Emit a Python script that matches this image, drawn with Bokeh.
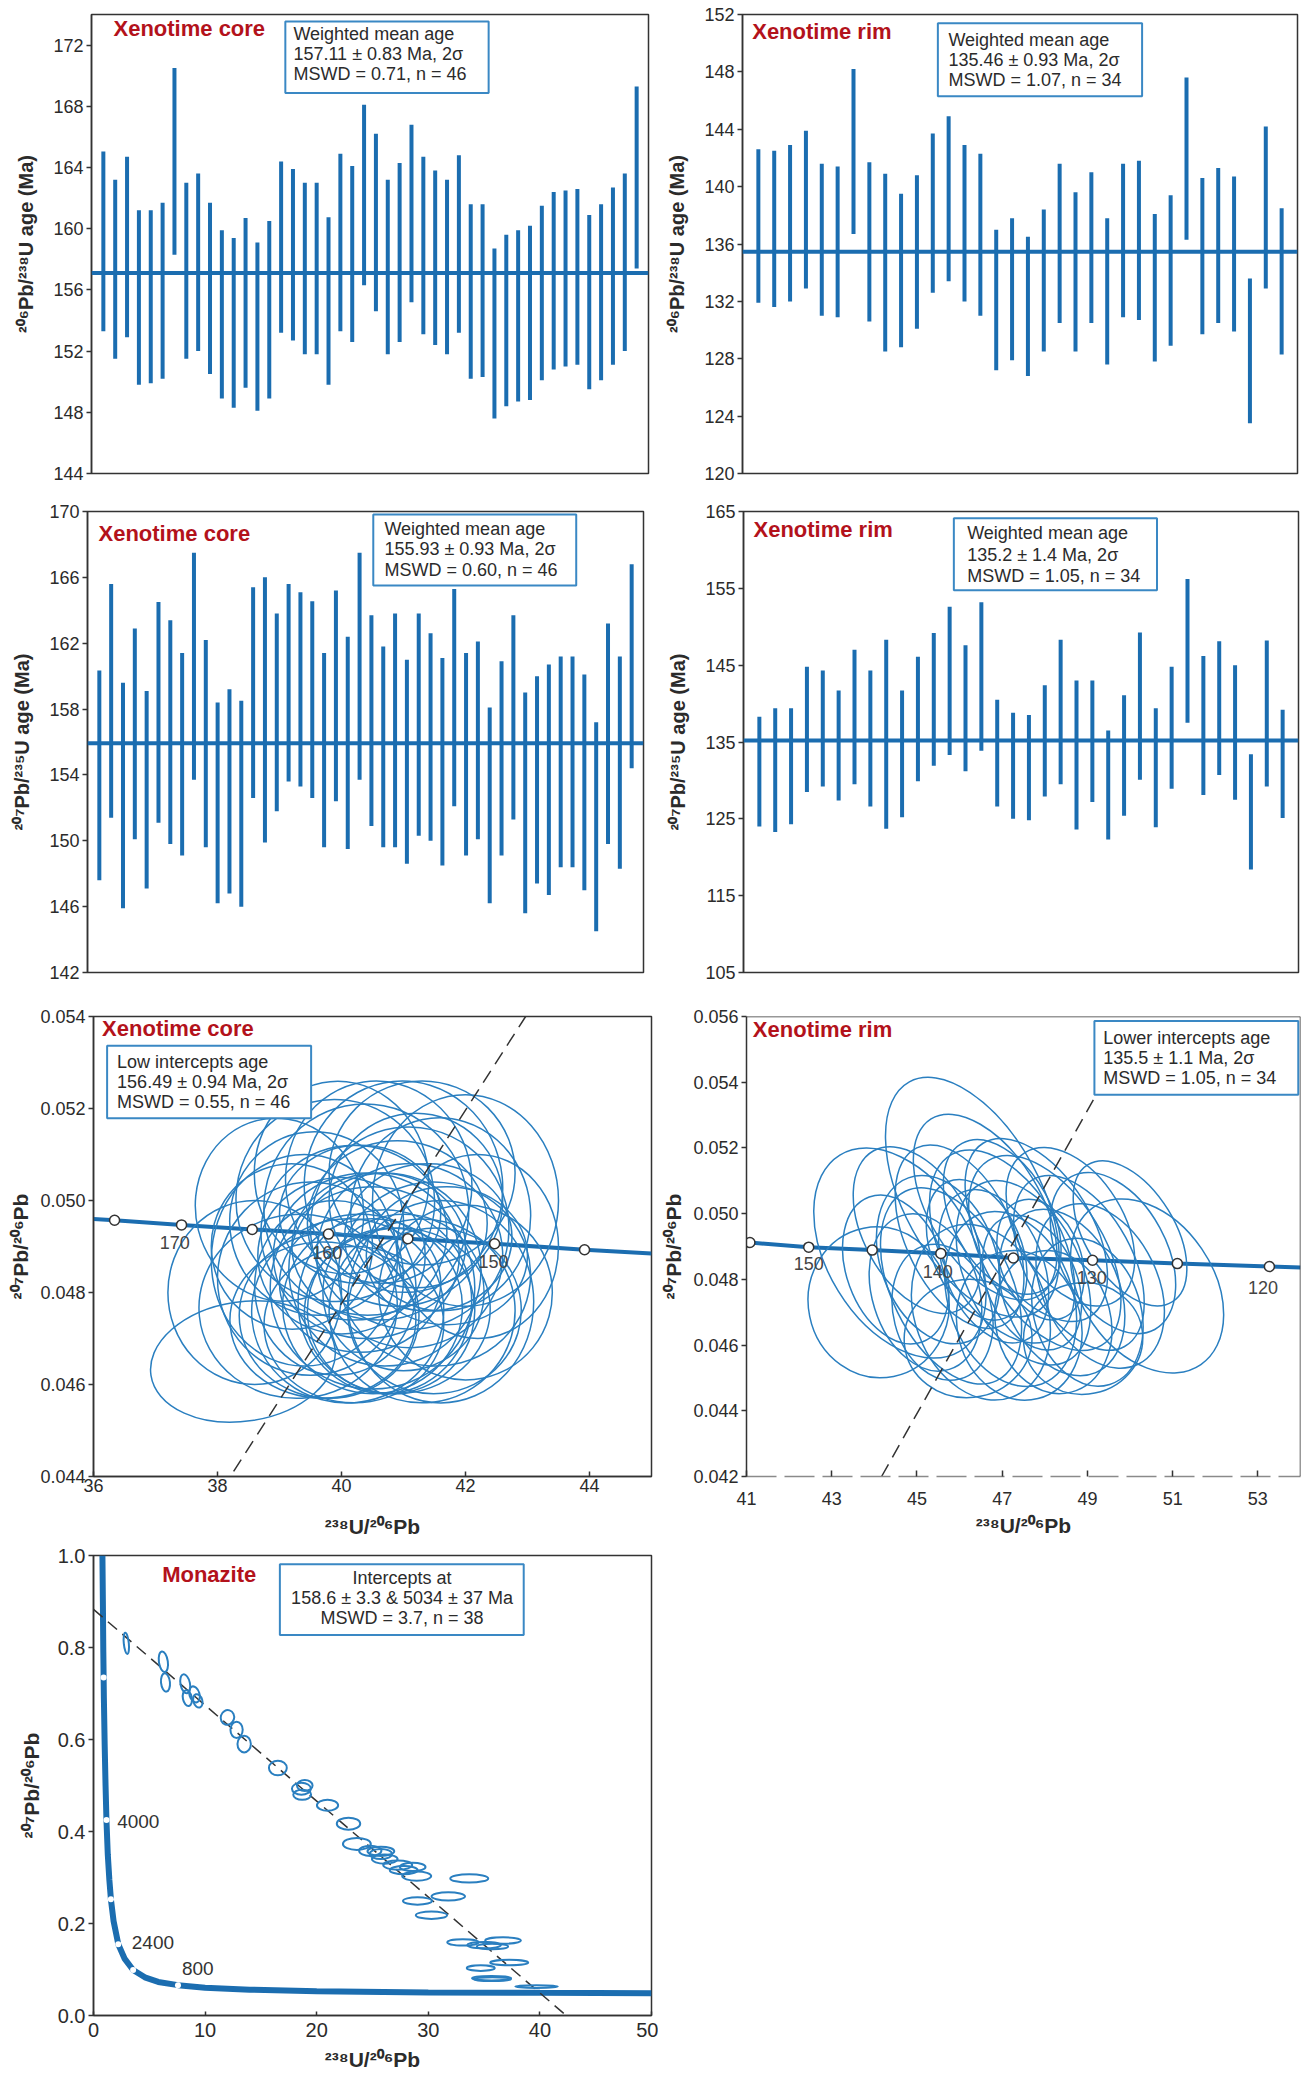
from bokeh.plotting import figure
from bokeh.layouts import column, row
from bokeh.models import Range1d, FixedTicker, PrintfTickFormatter, Span, BoxAnnotation, Label
from bokeh.core.properties import value
from bokeh.embed import file_html
from bokeh.resources import INLINE

# ---------------------------------------------------------------- data
# 206Pb/238U ages, xenotime core (2 sigma bars)
core_238_hi = [165.05, 163.2, 164.7, 161.2, 161.2, 161.7, 170.5, 163.0, 163.6, 161.7,
               159.9, 159.4, 160.7, 159.1, 160.5, 164.4, 163.9, 163.0, 163.0, 160.75,
               164.9, 164.1, 168.1, 166.2, 163.2, 164.3, 166.8, 164.7, 163.8, 163.2,
               164.8, 161.6, 161.6, 158.7, 159.6, 159.9, 160.2, 161.5, 162.4, 162.5,
               162.6, 160.9, 161.6, 162.7, 163.6, 169.3]
core_238_lo = [153.3, 151.5, 152.9, 149.8, 149.9, 150.2, 158.3, 151.5, 152.0, 150.5,
               148.9, 148.3, 149.6, 148.1, 148.9, 153.2, 152.7, 151.8, 151.8, 149.8,
               153.3, 152.6, 156.3, 154.6, 151.8, 152.6, 155.2, 153.1, 152.4, 151.8,
               153.2, 150.2, 150.3, 147.6, 148.4, 148.7, 148.8, 150.1, 150.8, 151.0,
               151.1, 149.5, 150.1, 151.1, 152.0, 157.4]
core_238_mean = 157.11
core_238_ticks = [144, 148, 152, 156, 160, 164, 168, 172]

# 206Pb/238U ages, xenotime rim
rim_238_hi = [142.6, 142.5, 142.9, 143.9, 141.6, 141.4, 148.2, 141.7, 140.9, 139.5,
              140.8, 143.7, 144.9, 142.9, 142.3, 137.0, 137.8, 136.5, 138.4, 141.6,
              139.6, 141.0, 137.8, 141.6, 141.8, 138.1, 139.4, 147.6, 140.6, 141.3,
              140.7, 133.6, 144.2, 138.5]
rim_238_lo = [131.9, 131.6, 132.0, 132.9, 131.0, 130.9, 136.7, 130.6, 128.5, 128.8,
              130.1, 132.6, 133.4, 132.0, 131.0, 127.2, 127.9, 126.8, 128.5, 130.5,
              128.5, 130.5, 127.6, 130.9, 130.7, 127.8, 128.9, 136.3, 129.7, 130.5,
              129.9, 123.5, 132.9, 128.3]
rim_238_mean = 135.46
rim_238_ticks = [120, 124, 128, 132, 136, 140, 144, 148, 152]

# 207Pb/235U ages, xenotime core
core_235_hi = [160.35, 165.6, 159.6, 162.9, 159.1, 164.5, 163.4, 161.4, 167.5, 162.2,
               158.4, 159.2, 158.5, 165.4, 166.0, 163.8, 165.6, 165.1, 164.55, 161.4,
               165.2, 162.4, 167.5, 163.7, 161.8, 163.8, 161.0, 163.8, 162.6, 161.1,
               165.3, 161.4, 162.1, 158.1, 160.9, 163.7, 159.0, 160.0, 160.7, 161.2,
               161.2, 160.1, 157.2, 163.2, 161.2, 166.8]
core_235_lo = [147.6, 151.4, 145.9, 150.1, 147.1, 151.1, 149.8, 149.1, 153.7, 149.6,
               146.2, 146.8, 146.0, 152.6, 149.9, 151.8, 153.6, 153.3, 152.6, 149.6,
               152.4, 149.5, 153.7, 150.9, 149.6, 149.6, 148.6, 150.3, 150.0, 148.5,
               152.1, 149.1, 150.1, 146.2, 149.1, 151.3, 145.6, 147.4, 146.7, 148.4,
               148.4, 147.0, 144.5, 149.8, 148.3, 154.4]
core_235_mean = 155.93
core_235_ticks = [142, 146, 150, 154, 158, 162, 166, 170]

# 207Pb/235U ages, xenotime rim
rim_235_hi = [138.3, 139.4, 139.4, 144.8, 144.3, 141.7, 147.0, 144.3, 148.3, 141.7,
              146.1, 149.2, 152.6, 147.6, 153.2, 140.5, 138.8, 138.5, 142.4, 148.3,
              143.0, 143.0, 136.5, 141.1, 149.25, 139.4, 144.8, 156.2, 146.2, 148.1,
              145.0, 133.4, 148.2, 139.2]
rim_235_lo = [124.0, 123.3, 124.3, 128.5, 129.2, 127.4, 129.5, 126.6, 123.7, 125.2,
              129.9, 131.9, 133.3, 131.2, 133.85, 126.6, 125.0, 124.8, 127.9, 129.5,
              123.6, 127.2, 122.3, 125.4, 130.1, 123.9, 128.9, 137.5, 128.1, 130.7,
              127.5, 118.4, 129.2, 125.1]
rim_235_mean = 135.2
rim_235_ticks = [105, 115, 125, 135, 145, 155, 165]

# Tera-Wasserburg, xenotime core
core_curve_x = [36.0, 36.34, 37.42, 38.56, 39.79, 41.07, 42.47, 43.92, 45.0]
core_curve_y = [0.04960, 0.04957, 0.04947, 0.04937, 0.04927, 0.04917, 0.04906, 0.04893, 0.04885]
core_mark_x = [36.34, 37.42, 38.56, 39.79, 41.07, 42.47, 43.92]
core_mark_y = [0.04957, 0.04947, 0.04937, 0.04927, 0.04917, 0.04906, 0.04893]
core_age_text = ["170", "160", "150"]
core_age_x = [37.31, 39.77, 42.45]
core_age_y = [0.04909, 0.04888, 0.04867]
core_disc_x = [38.26, 42.97]
core_disc_y = [0.04411, 0.05400]
core_ell_x = [38.41, 38.6, 39.2, 39.5, 39.6, 39.8, 39.9, 40.0, 40.1, 40.2,
              40.3, 40.4, 40.5, 40.6, 40.6, 40.7, 40.8, 40.9, 41.0, 41.0,
              41.1, 41.2, 41.3, 41.4, 41.5, 41.6, 41.7, 42.0, 42.0, 42.2,
              39.3, 39.7, 40.2, 40.9, 39.0, 40.0, 41.3, 40.5, 41.5, 39.4,
              40.3, 41.1, 40.7, 39.9, 41.6, 40.4]
core_ell_y = [0.0465, 0.0480, 0.0490, 0.0483, 0.0495, 0.0475, 0.0500, 0.0488, 0.0476, 0.0493,
              0.0482, 0.0498, 0.0477, 0.0490, 0.0504, 0.0485, 0.0476, 0.0495, 0.0503, 0.0480,
              0.0488, 0.0500, 0.0476, 0.0492, 0.0484, 0.0497, 0.0488, 0.0500, 0.0480, 0.0490,
              0.0477, 0.0474, 0.0473, 0.0476, 0.0498, 0.0505, 0.0506, 0.0481, 0.0476, 0.0487,
              0.0497, 0.0494, 0.0478, 0.0481, 0.0478, 0.0488]
core_ell_w = [3.0, 2.8, 2.6, 3.0, 2.8, 2.9, 3.2, 2.7, 3.1, 3.0,
              2.6, 3.3, 2.9, 2.8, 3.0, 3.1, 2.7, 2.9, 3.2, 2.6,
              3.0, 2.8, 3.0, 2.7, 3.1, 2.9, 2.6, 3.0, 2.8, 2.6,
              3.2, 3.0, 2.9, 3.0, 2.7, 2.8, 3.0, 3.3, 2.8, 3.0,
              2.6, 3.2, 2.8, 2.6, 3.0, 3.0]
core_ell_h = [0.0026, 0.0040, 0.0036, 0.0042, 0.0040, 0.0036, 0.0044, 0.0034, 0.0040, 0.0038,
              0.0030, 0.0046, 0.0038, 0.0032, 0.0044, 0.0042, 0.0036, 0.0036, 0.0046, 0.0034,
              0.0040, 0.0038, 0.0040, 0.0032, 0.0040, 0.0042, 0.0030, 0.0046, 0.0038, 0.0040,
              0.0040, 0.0034, 0.0034, 0.0036, 0.0040, 0.0042, 0.0040, 0.0044, 0.0036, 0.0046,
              0.0030, 0.0044, 0.0040, 0.0038, 0.0044, 0.0036]
core_ell_a = [0.15, 0.0, 0.1, 0.0, 0.2, 0.0, 0.25, 0.0, 0.1, 0.0,
              0.0, 0.2, -0.1, 0.0, 0.15, 0.0, 0.1, 0.0, 0.1, 0.0,
              0.05, 0.0, 0.1, 0.0, -0.1, 0.1, 0.0, 0.0, 0.1, 0.0,
              0.1, 0.0, 0.0, 0.1, 0.25, 0.2, 0.0, 0.0, 0.1, 0.0,
              0.0, 0.15, 0.0, 0.1, 0.0, 0.0]

# Tera-Wasserburg, xenotime rim
rim_curve_x = [41.0, 41.08, 42.46, 43.95, 45.56, 47.26, 49.12, 51.11, 53.27, 54.0]
rim_curve_y = [0.04913, 0.04912, 0.04898, 0.04889, 0.04879, 0.04865, 0.04858, 0.04848, 0.04839, 0.04836]
rim_mark_x = [41.08, 42.46, 43.95, 45.56, 47.26, 49.12, 51.11, 53.27]
rim_mark_y = [0.04912, 0.04898, 0.04889, 0.04879, 0.04865, 0.04858, 0.04848, 0.04839]
rim_age_text = ["150", "140", "130", "120"]
rim_age_x = [42.46, 45.49, 49.10, 53.12]
rim_age_y = [0.04849, 0.04823, 0.04807, 0.04776]
rim_disc_x = [44.17, 50.24]
rim_disc_y = [0.0420, 0.0560]
rim_ell_x = [44.6, 44.1, 46.3, 50.4, 45.8, 46.5, 47.0, 47.5, 48.0, 48.4,
             46.0, 45.5, 47.2, 48.8, 49.3, 46.8, 47.8, 45.2, 49.6, 47.4,
             46.2, 48.2, 45.0, 46.6, 48.6, 49.0, 47.7, 46.4, 45.6, 47.0,
             48.9, 44.5, 50.0, 47.9]
rim_ell_y = [0.0488, 0.0473, 0.0505, 0.0478, 0.0478, 0.0470, 0.0490, 0.0482, 0.0488, 0.0476,
             0.0493, 0.0486, 0.0474, 0.0485, 0.0478, 0.0484, 0.0495, 0.0476, 0.0488, 0.0466,
             0.0462, 0.0467, 0.0495, 0.0502, 0.0496, 0.0470, 0.0479, 0.0489, 0.0470, 0.0499,
             0.0462, 0.0483, 0.0494, 0.0486]
rim_ell_w = [3.4, 3.3, 3.2, 3.1, 2.8, 3.1, 2.8, 2.7, 2.8, 2.7,
             2.5, 2.7, 2.9, 2.5, 2.7, 2.3, 2.6, 2.5, 2.5, 2.9,
             3.0, 2.7, 2.5, 2.6, 2.5, 2.5, 2.1, 2.1, 2.3, 2.3,
             2.8, 2.3, 2.1, 1.9]
rim_ell_h = [0.0070, 0.0046, 0.0080, 0.0058, 0.0064, 0.0055, 0.0064, 0.0060, 0.0066, 0.0053,
             0.0060, 0.0053, 0.0055, 0.0058, 0.0053, 0.0049, 0.0062, 0.0049, 0.0053, 0.0046,
             0.0036, 0.0044, 0.0055, 0.0063, 0.0053, 0.0046, 0.0043, 0.0045, 0.0042, 0.0051,
             0.0034, 0.0047, 0.0049, 0.0038]
rim_ell_a = [0.55, 0.2, 0.5, 0.6, 0.45, 0.35, 0.5, 0.45, 0.55, 0.4,
             0.45, 0.35, 0.35, 0.5, 0.45, 0.4, 0.55, 0.3, 0.5, 0.25,
             0.1, 0.25, 0.5, 0.55, 0.55, 0.3, 0.4, 0.4, 0.25, 0.5,
             0.1, 0.35, 0.55, 0.35]

# Tera-Wasserburg, monazite
mz_curve_x = [0.80, 0.84, 0.88, 0.93, 1.00, 1.08, 1.16, 1.28, 1.42, 1.56, 1.80, 2.22,
              2.80, 3.55, 4.60, 5.80, 7.57, 10.0, 14.0, 20.0, 30.0, 40.0, 50.0]
mz_curve_y = [1.00, 0.90, 0.79, 0.69, 0.59, 0.50, 0.425, 0.35, 0.295, 0.2525, 0.205, 0.155,
              0.123, 0.099, 0.083, 0.073, 0.066, 0.0605, 0.0561, 0.0527, 0.0502, 0.0492, 0.0486]
mz_mark_x = [0.905, 1.163, 1.556, 2.217, 3.55, 7.57]
mz_mark_y = [0.735, 0.425, 0.2525, 0.155, 0.099, 0.066]
mz_age_text = ["4000", "2400", "800"]
mz_age_x = [2.12, 3.43, 7.92]
mz_age_y = [0.421, 0.159, 0.102]
mz_disc_x = [0.0, 42.35]
mz_disc_y = [0.883, 0.0]
mz_ell_x = [2.94, 6.26, 6.45, 8.22, 8.41, 9.05, 9.35, 12.0, 12.82, 13.5,
            16.52, 18.63, 18.70, 18.93, 20.97, 22.85, 23.6, 24.8, 25.75, 26.1,
            27.26, 27.8, 28.6, 28.96, 33.67, 31.79, 29.03, 30.28, 33.1, 35.0,
            36.7, 35.75, 34.7, 37.25, 35.67, 35.75, 39.7, 25.75]
mz_ell_y = [0.809, 0.769, 0.724, 0.721, 0.690, 0.698, 0.684, 0.648, 0.621, 0.590,
            0.538, 0.493, 0.480, 0.500, 0.457, 0.417, 0.373, 0.358, 0.357, 0.340,
            0.327, 0.316, 0.323, 0.303, 0.298, 0.259, 0.249, 0.218, 0.159, 0.153,
            0.163, 0.150, 0.103, 0.115, 0.081, 0.079, 0.063, 0.351]
mz_ell_w = [0.45, 0.8, 0.8, 0.85, 0.8, 0.9, 0.8, 1.2, 1.1, 1.2,
            1.6, 1.7, 1.6, 1.4, 1.9, 2.1, 2.5, 2.0, 2.4, 2.3,
            2.6, 2.5, 2.3, 2.6, 3.4, 3.0, 2.6, 2.8, 2.8, 3.0,
            3.2, 2.8, 2.5, 3.4, 3.5, 3.3, 3.8, 2.0]
mz_ell_h = [0.046, 0.045, 0.040, 0.042, 0.035, 0.036, 0.030, 0.032, 0.035, 0.036,
            0.032, 0.026, 0.022, 0.024, 0.024, 0.026, 0.026, 0.022, 0.020, 0.020,
            0.020, 0.018, 0.018, 0.020, 0.018, 0.018, 0.016, 0.016, 0.014, 0.014,
            0.014, 0.012, 0.012, 0.012, 0.010, 0.008, 0.006, 0.022]
mz_ell_a = [0.1, 0.15, 0.1, 0.2, 0.2, 0.3, 0.3, -0.3, 0.0, 0.0,
            0.0, 0.0, 0.0, 0.0, 0.0, 0.0, 0.0, 0.0, 0.0, 0.0,
            0.0, 0.0, 0.0, 0.0, 0.0, 0.0, 0.0, 0.0, 0.0, 0.0,
            0.0, 0.0, 0.0, 0.0, 0.0, 0.0, 0.0, 0.0]

# ---------------------------------------------------------------- style
FONT = "Liberation Sans"
BLUE = "#1b6db0"
ELL = "#2a7fc0"
RED = "#b3121b"
BOXC = "#3a88c4"
TXT = "#2b2b2b"
AX = "#333333"


def base_fig(w, h, bl, br, bt, bb, xr, yr):
    p = figure(width=w, height=h, x_range=Range1d(*xr), y_range=Range1d(*yr),
               output_backend="svg", toolbar_location=None)
    p.min_border_left = bl
    p.min_border_right = br
    p.min_border_top = bt
    p.min_border_bottom = bb
    p.xgrid.visible = False
    p.ygrid.visible = False
    p.outline_line_color = AX
    p.outline_line_width = 1.5
    p.outline_line_alpha = 1.0
    p.background_fill_color = "white"
    p.border_fill_color = "white"
    return p


def style_axis(ax, label, ticks, fmt, tick_size, label_size=20, tick_in=0, tick_out=5,
               lab_stand=3, axl_stand=12):
    ax.axis_label = label
    ax.ticker = FixedTicker(ticks=ticks)
    ax.formatter = PrintfTickFormatter(format=fmt)
    ax.major_label_text_font = FONT
    ax.major_label_text_font_size = tick_size
    ax.major_label_text_color = TXT
    ax.axis_label_text_font = FONT
    ax.axis_label_text_font_size = f"{label_size}px"
    ax.axis_label_text_font_style = "bold"
    ax.axis_label_text_color = TXT
    ax.minor_tick_line_color = None
    ax.major_tick_line_color = AX
    ax.major_tick_line_width = 1.5
    ax.major_tick_in = tick_in
    ax.major_tick_out = tick_out
    ax.axis_line_color = AX
    ax.axis_line_width = 1.5
    ax.major_label_standoff = lab_stand
    ax.axis_label_standoff = axl_stand


def px(xr, f):
    return xr[0] + f * (xr[1] - xr[0])


def py(yr, f):
    return yr[1] - f * (yr[1] - yr[0])


def add_title(p, xr, yr, fx, fy, text, size="22px"):
    p.add_layout(Label(x=px(xr, fx), y=py(yr, fy), text=text, text_font=FONT,
                       text_font_size=size, text_font_style="bold", text_color=RED,
                       text_baseline="middle", text_align="left"))


def add_box(p, xr, yr, box, lines, tx, tys, align="left"):
    l, r, t, b = box
    p.add_layout(BoxAnnotation(left=px(xr, l), right=px(xr, r), top=py(yr, t), bottom=py(yr, b),
                               fill_color="white", fill_alpha=1.0, line_color=BOXC,
                               line_width=2, line_alpha=1.0))
    for s, fy in zip(lines, tys):
        p.add_layout(Label(x=px(xr, tx), y=py(yr, fy), text=s, text_font=FONT,
                           text_font_size="18px", text_color=TXT,
                           text_baseline="middle", text_align=align))


def bar_panel(w, h, bl, br, bt, bb, lo, hi, mean, yr, yticks, ylabel, title, tpos,
              box, lines, tx, tys):
    n = len(lo)
    xr = (0, n + 1)
    p = base_fig(w, h, bl, br, bt, bb, xr, yr)
    idx = list(range(1, n + 1))
    p.segment(x0=idx, y0=lo, x1=idx, y1=hi, line_color=BLUE, line_width=4, line_cap="butt")
    p.add_layout(Span(location=mean, dimension="width", line_color=BLUE, line_width=4))
    p.xaxis.visible = False
    style_axis(p.yaxis[0], ylabel, yticks, "%d", "18px", label_size=20, axl_stand=13)
    add_title(p, xr, yr, tpos[0], tpos[1], title)
    add_box(p, xr, yr, box, lines, tx, tys)
    return p


# ---------------------------------------------------------------- rows 1 / 2
lab238 = "²⁰⁶Pb/²³⁸U age (Ma)"
lab235 = "²⁰⁷Pb/²³⁵U age (Ma)"

pA = bar_panel(658, 499, 91, 10, 12, 26, core_238_lo, core_238_hi, core_238_mean, (144, 174),
               core_238_ticks, lab238, "Xenotime core", (0.0395, 0.0304),
               (0.348, 0.713, 0.0152, 0.171),
               ["Weighted mean age", "157.11 ± 0.83 Ma, 2σ", "MSWD = 0.71, n = 46"],
               0.3625, [0.0434, 0.0868, 0.130])
pB = bar_panel(643, 499, 84, 4, 14, 24, rim_238_lo, rim_238_hi, rim_238_mean, (120, 152),
               rim_238_ticks, lab238, "Xenotime rim", (0.0175, 0.0362),
               (0.352, 0.720, 0.0189, 0.178),
               ["Weighted mean age", "135.46 ± 0.93 Ma, 2σ", "MSWD = 1.07, n = 34"],
               0.371, [0.0549, 0.0983, 0.143])
pC = bar_panel(658, 505, 87, 15, 12, 32, core_235_lo, core_235_hi, core_235_mean, (142, 170),
               core_235_ticks, lab235, "Xenotime core", (0.0198, 0.0477),
               (0.514, 0.879, 0.0065, 0.1605),
               ["Weighted mean age", "155.93 ± 0.93 Ma, 2σ", "MSWD = 0.60, n = 46"],
               0.534, [0.039, 0.0824, 0.126])
pD = bar_panel(642, 505, 85, 2, 12, 32, rim_235_lo, rim_235_hi, rim_235_mean, (105, 165),
               rim_235_ticks, lab235, "Xenotime rim", (0.018, 0.039),
               (0.379, 0.745, 0.0145, 0.171),
               ["Weighted mean age", "135.2 ± 1.4 Ma, 2σ", "MSWD = 1.05, n = 34"],
               0.403, [0.0477, 0.0954, 0.139])

# ---------------------------------------------------------------- row 3: concordia
labY = "²⁰⁷Pb/²⁰⁶Pb"
labX = "²³⁸U/²⁰⁶Pb"


def concordia(p, cx, cy, ex, ey, ew, eh, ea, dx, dy, mx, my, tx, ty, tt):
    p.line(cx, cy, line_color=BLUE, line_width=4)
    p.ellipse(x=ex, y=ey, width=ew, height=eh, angle=ea, fill_color=None,
              line_color=ELL, line_width=1.5)
    p.line(dx, dy, line_color="#333333", line_width=1.5, line_dash="14 8")
    p.scatter(mx, my, marker="circle", size=10, fill_color="white", line_color="#333333",
              line_width=1.5)
    p.text(x=tx, y=ty, text=tt, text_font=value(FONT), text_font_size="18px",
           text_color="#444444", text_align="center", text_baseline="middle")


xrE, yrE = (36, 45), (0.044, 0.054)
pE = base_fig(658, 539, 93, 7, 12, 67, xrE, yrE)
concordia(pE, core_curve_x, core_curve_y, core_ell_x, core_ell_y, core_ell_w, core_ell_h,
          core_ell_a, core_disc_x, core_disc_y, core_mark_x, core_mark_y,
          core_age_x, core_age_y, core_age_text)
style_axis(pE.xaxis[0], labX, [36, 38, 40, 42, 44], "%d", "18px", label_size=21,
           tick_in=5, tick_out=0, lab_stand=2, axl_stand=20)
style_axis(pE.yaxis[0], labY, [0.044, 0.046, 0.048, 0.050, 0.052, 0.054], "%.3f", "18px",
           label_size=21, lab_stand=3, axl_stand=5)
add_title(pE, xrE, yrE, 0.0154, 0.026, "Xenotime core")
add_box(pE, xrE, yrE, (0.0244, 0.390, 0.0637, 0.221),
        ["Low intercepts age", "156.49 ± 0.94 Ma, 2σ", "MSWD = 0.55, n = 46"],
        0.0423, [0.099, 0.1425, 0.186])

xrF, yrF = (41, 54), (0.042, 0.056)
pF = base_fig(643, 539, 88, 1, 12, 67, xrF, yrF)
pF.outline_line_color = None
concordia(pF, rim_curve_x, rim_curve_y, rim_ell_x, rim_ell_y, rim_ell_w, rim_ell_h,
          rim_ell_a, rim_disc_x, rim_disc_y, rim_mark_x, rim_mark_y,
          rim_age_x, rim_age_y, rim_age_text)
style_axis(pF.xaxis[0], labX, [41, 43, 45, 47, 49, 51, 53], "%d", "18px", label_size=21,
           tick_in=6, tick_out=0, lab_stand=15, axl_stand=6)
pF.xaxis[0].axis_line_color = "#8a8a8a"
pF.xaxis[0].axis_line_dash = "30 8"
style_axis(pF.yaxis[0], labY, [0.042, 0.044, 0.046, 0.048, 0.050, 0.052, 0.054, 0.056],
           "%.3f", "18px", label_size=21, lab_stand=3, axl_stand=5)
pF.add_layout(Span(location=yrF[1], dimension="width", line_color=AX, line_width=1.5))
pF.add_layout(Span(location=xrF[1], dimension="height", line_color=AX, line_width=1.5))
add_title(pF, xrF, yrF, 0.0115, 0.0293, "Xenotime rim")
add_box(pF, xrF, yrF, (0.628, 0.996, 0.0098, 0.170),
        ["Lower intercepts age", "135.5 ± 1.1 Ma, 2σ", "MSWD = 1.05, n = 34"],
        0.644, [0.0467, 0.0912, 0.1346])

# ---------------------------------------------------------------- row 4: monazite
xrG, yrG = (0, 50), (0.0, 1.0)
pG = base_fig(658, 530, 93, 7, 12, 58, xrG, yrG)
pG.line(mz_curve_x, mz_curve_y, line_color=BLUE, line_width=6)
pG.scatter(mz_mark_x, mz_mark_y, marker="circle", size=6, fill_color="white", line_color=None)
pG.line(mz_disc_x, mz_disc_y, line_color="#333333", line_width=1.5, line_dash="12 7")
pG.ellipse(x=mz_ell_x, y=mz_ell_y, width=mz_ell_w, height=mz_ell_h, angle=mz_ell_a,
           fill_color=None, line_color=ELL, line_width=2)
pG.text(x=mz_age_x, y=mz_age_y, text=mz_age_text, text_font=value(FONT),
        text_font_size="19px", text_color="#333333", text_align="left", text_baseline="middle")
style_axis(pG.xaxis[0], labX, [0, 10, 20, 30, 40, 50], "%d", "20px", label_size=21,
           tick_in=4, tick_out=0, lab_stand=7, axl_stand=8)
style_axis(pG.yaxis[0], labY, [0.0, 0.2, 0.4, 0.6, 0.8, 1.0], "%.1f", "20px",
           label_size=21, lab_stand=3, axl_stand=12)
add_title(pG, xrG, yrG, 0.123, 0.0407, "Monazite")
add_box(pG, xrG, yrG, (0.334, 0.771, 0.019, 0.173),
        ["Intercepts at", "158.6 ± 3.3 & 5034 ± 37 Ma", "MSWD = 3.7, n = 38"],
        0.553, [0.0483, 0.0929, 0.1357], align="center")

layout = column(row(pA, pB), row(pC, pD), row(pE, pF), pG)
open("out.html", "w").write(file_html(layout, INLINE, title="U-Pb ages"))
